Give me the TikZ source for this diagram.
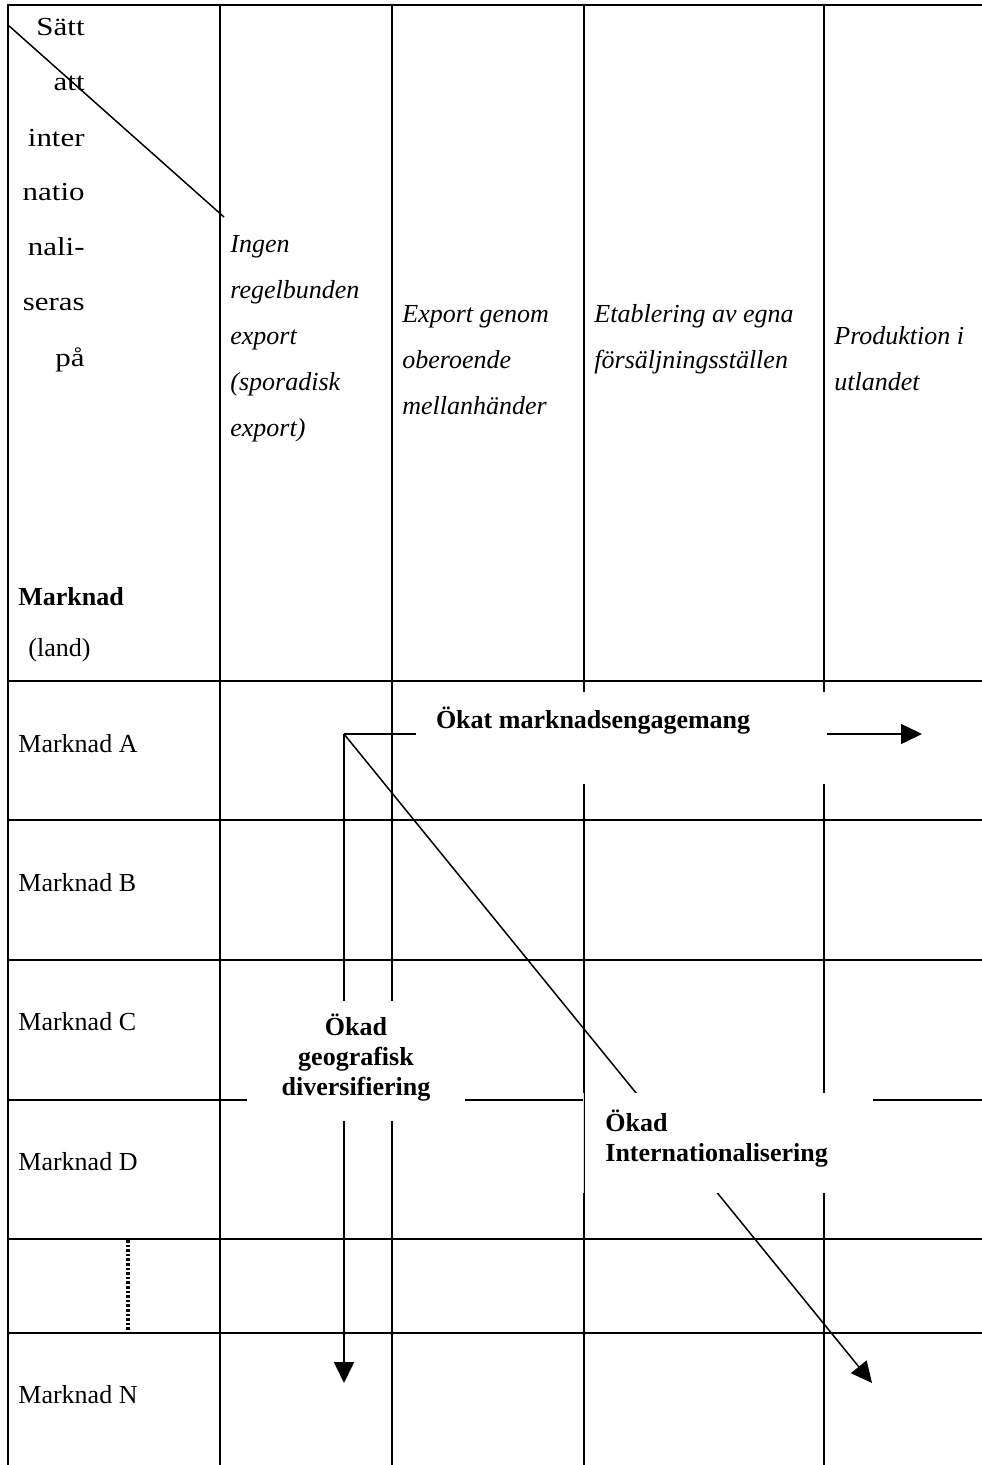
\documentclass[tikz,border=0pt]{standalone}
\usepackage{fontspec}
\setmainfont{Liberation Serif}
\newfontfamily\wideserif[FakeStretch=1.19]{Liberation Serif}
\usetikzlibrary{arrows.meta}
\begin{document}
\begin{tikzpicture}[x=0.5pt, y=-0.5pt,
  gridline/.style={line width=1.1pt, line cap=rect},
  thinline/.style={line width=0.75pt},
  flowarrow/.style={line width=0.75pt, -{Triangle[length=10.5pt,width=10pt]}},
  bodytext/.style={font=\fontsize{13}{15}\selectfont, inner sep=0pt, anchor=base west},
  headtext/.style={font=\fontsize{13}{23}\selectfont\itshape, inner sep=0pt, align=left, anchor=base west},
  boldtext/.style={font=\fontsize{13}{15}\selectfont\bfseries, inner sep=0pt},
  mask/.style={fill=white, draw=none}]
\useasboundingbox (0,0) rectangle (981,1465);

% table rules
\foreach \y in {5,681,820,960,1100,1238.7,1332.7}
  \draw[gridline] (8,\y) -- (981,\y);
\foreach \x in {8,220,392,584,824}
  \draw[gridline] (\x,5) -- (\x,1465);

% split of the corner cell
\draw[thinline] (8,25) -- (224,217);

% dotted continuation between Marknad D and Marknad N
\draw[line width=1.6pt, dash pattern=on 1.3pt off 1pt] (128,1240) -- (128,1332);

% corner header (anchored on the baseline of its last line)
\node[font=\wideserif\fontsize{13}{27.5}\selectfont, inner sep=0pt, align=right, anchor=base east]
  (mode) at (85,366) {Sätt\\att\\inter\\natio\\nali-\\seras\\på};
\node[boldtext, anchor=base west] (market) at (18,605) {Marknad};
\node[bodytext] (land) at (28,656) {(land)};

% column headers
\node[headtext] (c1) at (230,436) {Ingen\\regelbunden\\export\\(sporadisk\\export)};
\node[headtext] (c2) at (402,414) {Export genom\\oberoende\\mellanhänder};
\node[headtext] (c3) at (594,368) {Etablering av egna\\försäljningsställen};
\node[headtext] (c4) at (834,390) {Produktion i\\utlandet};

% row labels
\node[bodytext] (mA) at (18,752) {Marknad A};
\node[bodytext] (mB) at (18,891) {Marknad B};
\node[bodytext] (mC) at (18,1030) {Marknad C};
\node[bodytext] (mD) at (18,1170) {Marknad D};
\node[bodytext] (mN) at (18,1403) {Marknad N};

% development arrows from a common start
\coordinate (start) at (344,734);
\coordinate (endRight) at (922,734);
\coordinate (endDown) at (344,1383);
\coordinate (endDiag) at (872,1383);
\draw[flowarrow] (start) -- (endRight);
\draw[flowarrow] (start) -- (endDown);
\draw[flowarrow] (start) -- (endDiag);

% label boxes
\path[mask] (416,692) rectangle (827,784);
\path[mask] (247,1001) rectangle (465,1121);
\path[mask] (584.6,1093) rectangle (873,1193);
\draw[gray!30, line width=0.3pt] (583.5,1093) -- (583.5,1193);

\node[boldtext, anchor=base west] (engagement) at (435.6,728) {Ökat marknadsengagemang};
\node[boldtext, align=center, anchor=base] (geo) at (356,1095) {Ökad\\geografisk\\diversifiering};
\node[boldtext, align=left, anchor=base west] (intl) at (605,1161) {Ökad\\Internationalisering};
\end{tikzpicture}
\end{document}
